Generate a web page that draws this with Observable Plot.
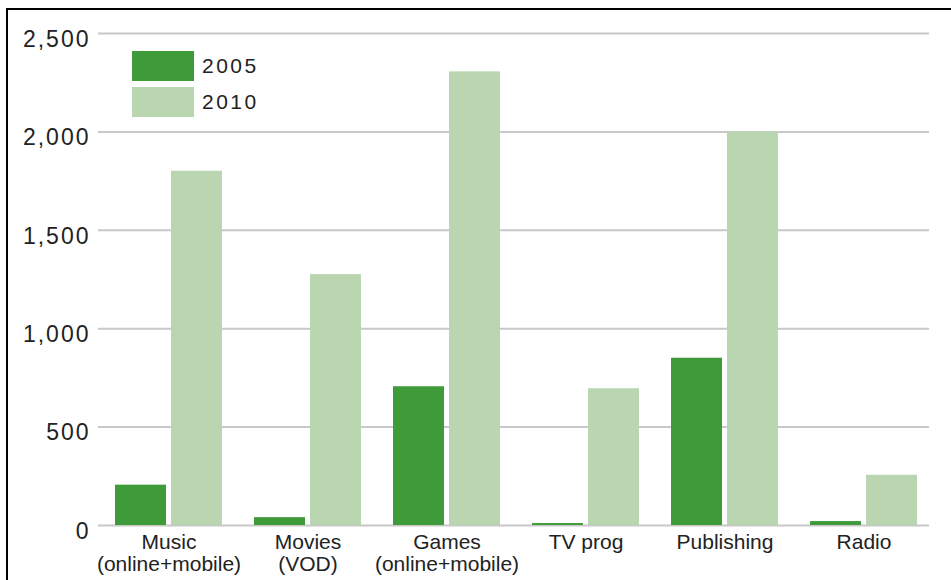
<!DOCTYPE html>
<html>
<head>
<meta charset="utf-8">
<script src="https://cdn.jsdelivr.net/npm/d3@7"></script>
<script src="https://cdn.jsdelivr.net/npm/@observablehq/plot@0.6"></script>
<style>
  html, body { margin: 0; padding: 0; background: #fff; }
  #wrap { position: relative; width: 951px; height: 580px; overflow: hidden; background: #fff; }
  #frame { position: absolute; left: 6px; top: 8px; right: -20px; bottom: -20px; border: 2.5px solid #000; pointer-events: none; }
  .legend { position: absolute; font-family: "Liberation Sans", Arial, sans-serif; font-size: 21px; letter-spacing: 2.5px; color: #222; }
  .sw { position: absolute; width: 62px; height: 30px; }
  #wrap g[aria-label="y-axis tick label"] text { letter-spacing: 2px; }
</style>
</head>
<body>
<div id="wrap"></div>
<script>
const categories = ["Music\n(online+mobile)", "Movies\n(VOD)", "Games\n(online+mobile)", "TV prog", "Publishing", "Radio"];
const years = ["2005", "2010"];
const values2005 = [205, 40, 705, 10, 850, 20];
const values2010 = [1800, 1275, 2305, 695, 2000, 255];
const yTicks = [0, 500, 1000, 1500, 2000, 2500];
const colors = ["#3f9b39", "#bad6b1"];

const d2005 = categories.map((c, i) => ({category: c, value: values2005[i]}));
const d2010 = categories.map((c, i) => ({category: c, value: values2010[i]}));

const plot = Plot.plot({
  width: 951,
  height: 580,
  marginLeft: 98,
  marginRight: 22,
  marginTop: 33,
  marginBottom: 55,
  style: {fontFamily: "Liberation Sans, Arial, sans-serif", background: "transparent", color: "#222"},
  x: {domain: categories, paddingInner: 0.228, paddingOuter: 0.097, align: 0.59, label: null},
  y: {domain: [0, 2500], label: null},
  marks: [
    Plot.gridY(yTicks, {stroke: "#c8c8c8", strokeOpacity: 1, strokeWidth: 2}),
    Plot.barY(d2005, {x: "category", y: "value", fill: colors[0], insetRight: 56}),
    Plot.barY(d2010, {x: "category", y: "value", fill: colors[1], insetLeft: 56}),
    Plot.axisY(yTicks, {tickSize: 0, tickPadding: 8, dy: 6, fontSize: 23, tickFormat: d3.format(","), label: null}),
    Plot.axisX({tickSize: 0, tickPadding: 8, fontSize: 21, lineHeight: 1.05, label: null})
  ]
});

const wrap = document.getElementById("wrap");
wrap.appendChild(plot);
plot.style.position = "absolute";
plot.style.left = "0";
plot.style.top = "0";

const frame = document.createElement("div");
frame.id = "frame";
wrap.appendChild(frame);

const legendTop = [51, 87];
years.forEach((yr, i) => {
  const sw = document.createElement("div");
  sw.className = "sw";
  sw.style.left = "132px";
  sw.style.top = legendTop[i] + "px";
  sw.style.background = colors[i];
  wrap.appendChild(sw);
  const t = document.createElement("div");
  t.className = "legend";
  t.textContent = yr;
  t.style.left = "202px";
  t.style.top = (legendTop[i] + 3) + "px";
  t.style.lineHeight = "24px";
  wrap.appendChild(t);
});
</script>
</body>
</html>
